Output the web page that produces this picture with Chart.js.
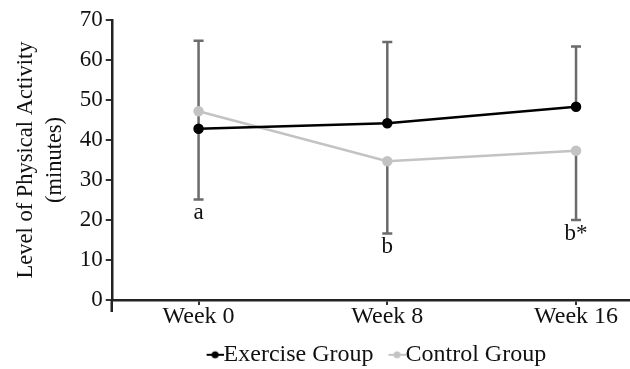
<!DOCTYPE html>
<html lang="en">
  <head>
    <meta charset="UTF-8" />
    <title>Physical Activity</title>
    <script src="https://cdn.jsdelivr.net/npm/chart.js"></script>
    <style>
      body { margin: 0; background: #fff; }
      .box { width: 630px; height: 369px; }
    </style>
  </head>
  <body>
    <div class="box"><canvas id="myChart"></canvas></div>

<script>
  // data
  var semanas = ["Week 0", "Week 8", "Week 16"];
  var exercicio = [42.8, 44.2, 48.3];
  var controle = [47.2, 34.7, 37.3];
  var erroTopo = [64.8, 64.5, 63.4];   // upper end of bars (exercise group)
  var erroBase = [25.1, 16.6, 20.0];   // lower end of bars (control group)
  var letras = ["a", "b", "b*"];
  var ticksY = [0, 10, 20, 30, 40, 50, 60, 70];

  var fonte = "'Liberation Serif', 'DejaVu Serif', serif";

  // legend marker: short line with a dot, sitting right before the text
  function marcador(cor) {
    const c = document.createElement("canvas");
    c.width = 40;
    c.height = 10;
    const g = c.getContext("2d");
    g.strokeStyle = cor;
    g.fillStyle = cor;
    g.lineWidth = 2;
    g.beginPath();
    g.moveTo(23, 5);
    g.lineTo(40, 5);
    g.stroke();
    g.beginPath();
    g.arc(31.5, 5, 3.5, 0, Math.PI * 2);
    g.fill();
    return c;
  }

  // error bars (up from exercise, down from control) + letters
  const barrasErro = {
    id: "barrasErro",
    afterLayout(chart) {
      // center the legend under the plot area
      const lg = chart.legend;
      lg.left = chart.chartArea.left;
      lg.right = chart.chartArea.right;
      lg.width = lg.right - lg.left;
      lg.top += 11;
      lg.bottom += 11;
    },
    beforeDatasetsDraw(chart) {
      const ctx = chart.ctx;
      const x = chart.scales.x;
      const y = chart.scales.y;
      ctx.save();
      ctx.strokeStyle = "#6b6b6b";
      ctx.lineWidth = 2.5;
      for (let i = 0; i < semanas.length; i++) {
        const px = x.getPixelForValue(i);
        const top = y.getPixelForValue(erroTopo[i]);
        const bot = y.getPixelForValue(erroBase[i]);
        const pe = y.getPixelForValue(exercicio[i]);
        const pc = y.getPixelForValue(controle[i]);
        ctx.beginPath();
        ctx.moveTo(px, top);
        ctx.lineTo(px, pe);
        ctx.moveTo(px, pc);
        ctx.lineTo(px, bot);
        ctx.moveTo(px - 5, top);
        ctx.lineTo(px + 5, top);
        ctx.moveTo(px - 5, bot);
        ctx.lineTo(px + 5, bot);
        ctx.stroke();
      }
      ctx.fillStyle = "#111";
      ctx.font = "23px " + fonte;
      ctx.textAlign = "center";
      ctx.textBaseline = "top";
      for (let i = 0; i < letras.length; i++) {
        const px = x.getPixelForValue(i);
        const bot = y.getPixelForValue(erroBase[i]);
        ctx.fillText(letras[i], px, bot + 2);
      }
      ctx.restore();
    },
    afterDraw(chart) {
      // y axis line runs a bit below the x axis
      const ctx = chart.ctx;
      const a = chart.chartArea;
      ctx.save();
      ctx.strokeStyle = "#222";
      ctx.lineWidth = 2.5;
      ctx.beginPath();
      ctx.moveTo(a.left, a.bottom);
      ctx.lineTo(a.left, a.bottom + 12);
      ctx.stroke();
      ctx.restore();
    },
  };

  let dados = {
    datasets: [
      {
        label: "Exercise Group",
        data: exercicio.map((v, i) => ({ x: i, y: v })),
        borderColor: "#000",
        backgroundColor: "#000",
        borderWidth: 2.5,
        pointRadius: 4,
        pointHoverRadius: 4,
      },
      {
        label: "Control Group",
        data: controle.map((v, i) => ({ x: i, y: v })),
        borderColor: "#c3c3c3",
        backgroundColor: "#c3c3c3",
        borderWidth: 2.5,
        pointRadius: 4,
        pointHoverRadius: 4,
      },
    ],
  };

  const config = {
    type: "line",
    data: dados,
    plugins: [barrasErro],
    options: {
      responsive: true,
      maintainAspectRatio: false,
      animation: false,
      layout: { autoPadding: false, padding: { top: 20, right: 0, left: 12.5, bottom: 3.2 } },
      plugins: {
        tooltip: { enabled: false },
        legend: {
          position: "bottom",
          labels: {
            color: "#111",
            font: { family: fonte, size: 24 },
            usePointStyle: true,
            pointStyleWidth: 16,
            padding: 4,
            generateLabels: (chart) => {
              const itens = Chart.defaults.plugins.legend.labels.generateLabels(chart);
              itens.forEach((it, i) => {
                it.pointStyle = marcador(i == 0 ? "#000" : "#c3c3c3");
              });
              return itens;
            },
          },
        },
      },
      scales: {
        x: {
          type: "linear",
          min: -0.46,
          max: 2.286,
          afterBuildTicks: (axis) => {
            axis.ticks = semanas.map((s, i) => ({ value: i }));
          },
          afterFit: (s) => {
            s.paddingLeft = 0;
            s.paddingRight = 0;
          },
          ticks: {
            color: "#111",
            font: { family: fonte, size: 24 },
            padding: -3,
            callback: (v) => semanas[v],
          },
          grid: {
            drawOnChartArea: false,
            tickLength: 5,
            color: "#333",
            lineWidth: 2,
          },
          border: { color: "#222", width: 2.5 },
        },
        y: {
          min: 0,
          max: 70,
          afterBuildTicks: (axis) => {
            axis.ticks = ticksY.map((v) => ({ value: v }));
          },
          ticks: {
            color: "#111",
            font: { family: fonte, size: 23 },
            padding: 3,
          },
          grid: {
            drawOnChartArea: false,
            tickLength: 6,
            color: "#333",
            lineWidth: 2,
          },
          border: { color: "#222", width: 2.5 },
          title: {
            display: true,
            text: ["Level of Physical Activity", "(minutes)"],
            color: "#111",
            font: { family: fonte, size: 22.5, lineHeight: 1.25 },
            padding: { top: 0, bottom: 8 },
          },
        },
      },
    },
  };

  let myChart = new Chart(document.getElementById("myChart"), config);
</script>
  </body>
</html>
